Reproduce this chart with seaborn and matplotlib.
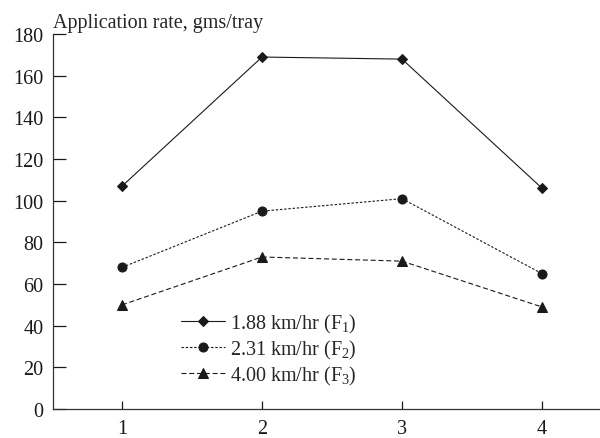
import matplotlib
matplotlib.use('Agg')
import matplotlib.pyplot as plt
import seaborn as sns
import pandas as pd

# data
positions = [1, 2, 3, 4]
rate_f1 = [107, 169, 168, 106]
rate_f2 = [68, 95, 101, 65]
rate_f3 = [50, 73, 71, 49]
labels = ['1.88 km/hr (F$_1$)', '2.31 km/hr (F$_2$)', '4.00 km/hr (F$_3$)']
yticks = [0, 20, 40, 60, 80, 100, 120, 140, 160, 180]

sns.set_style('ticks')
plt.rcParams['font.family'] = ['Liberation Serif', 'DejaVu Serif']
plt.rcParams['mathtext.fontset'] = 'custom'
plt.rcParams['mathtext.rm'] = 'Liberation Serif'
plt.rcParams['mathtext.it'] = 'Liberation Serif'

df = pd.DataFrame({
    'x': positions * 3,
    'rate': rate_f1 + rate_f2 + rate_f3,
    'speed': [labels[0]] * 4 + [labels[1]] * 4 + [labels[2]] * 4,
})

fig = plt.figure(figsize=(6.0, 4.39), dpi=100)
ax = fig.add_axes([0.0883, 0.066, 0.9117, 0.854])

styles = {
    labels[0]: dict(marker='D', ls='-', ms=5.5),
    labels[1]: dict(marker='o', ls=(0, (2.2, 1.6)), ms=6.5),
    labels[2]: dict(marker='^', ls=(0, (4.5, 2.5)), ms=6.5),
}
for lab in labels:
    sub = df[df['speed'] == lab]
    st = styles[lab]
    sns.lineplot(data=sub, x='x', y='rate', ax=ax, color='#1a1a1a', lw=0.8,
                 marker=st['marker'], markersize=st['ms'], linestyle=st['ls'],
                 markeredgecolor='#1a1a1a', label=lab)

ax.set_xlim(0.507, 4.414)
ax.set_ylim(0, 180)
ax.set_xticks(positions)
ax.set_yticks(yticks)
ax.tick_params(direction='in', width=0.9, labelsize=14.5, colors='#1a1a1a')
ax.tick_params(axis='x', length=6, pad=7)
ax.tick_params(axis='y', length=9.5, pad=7)
for s in ['top', 'right']:
    ax.spines[s].set_visible(False)
for s in ['left', 'bottom']:
    ax.spines[s].set_linewidth(0.9)
    ax.spines[s].set_color('#333333')
ax.set_xlabel('')
ax.set_ylabel('')
fig.text(0.088, 0.936, 'Application rate, gms/tray', fontsize=14.5, ha='left', va='baseline')

ax.legend(loc='center left', bbox_to_anchor=(0.234, 0.16), frameon=False,
          fontsize=14.5, handlelength=2.2, handletextpad=0.25, labelspacing=0.15,
          borderpad=0, borderaxespad=0)

fig.savefig('out.png', dpi=100)
